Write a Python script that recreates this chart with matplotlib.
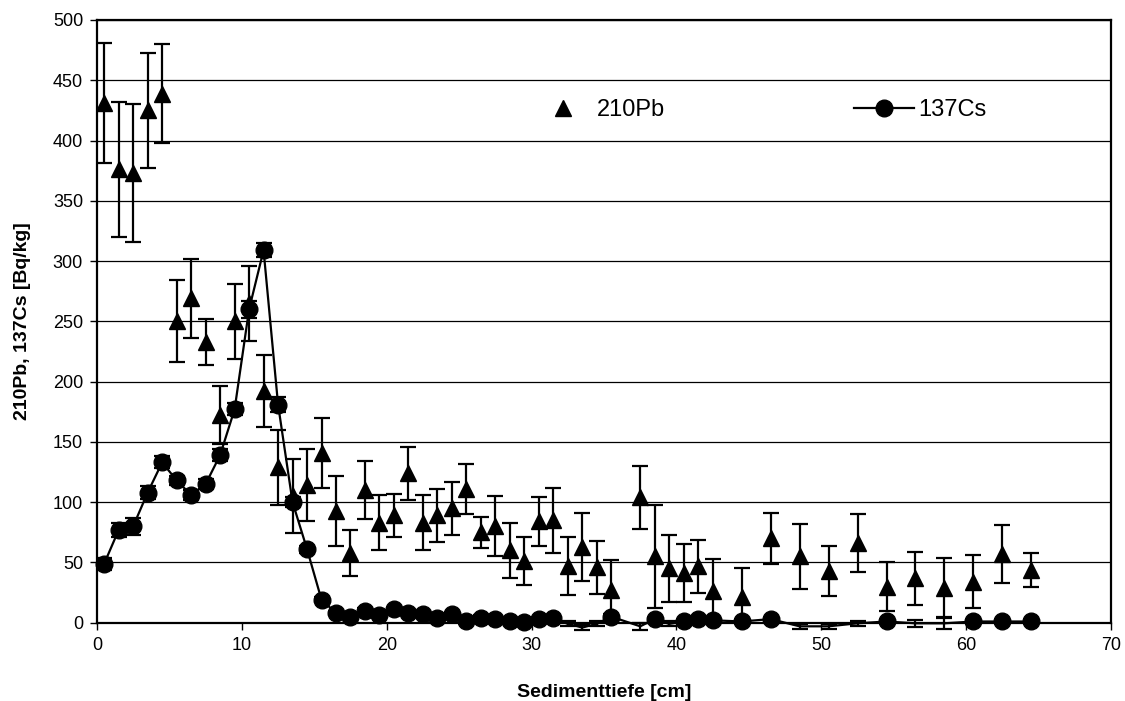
import numpy as np
import matplotlib
matplotlib.use("Agg")
import matplotlib.pyplot as plt
from matplotlib.lines import Line2D

plt.rcParams['font.family'] = ['Liberation Sans', 'DejaVu Sans']

# sampling depths [cm]
depth = [0.5, 1.5, 2.5, 3.5, 4.5, 5.5, 6.5, 7.5, 8.5, 9.5,
         10.5, 11.5, 12.5, 13.5, 14.5, 15.5, 16.5, 17.5, 18.5, 19.5,
         20.5, 21.5, 22.5, 23.5, 24.5, 25.5, 26.5, 27.5, 28.5, 29.5,
         30.5, 31.5, 32.5, 33.5, 34.5, 35.5, 37.5, 38.5, 39.5, 40.5,
         41.5, 42.5, 44.5, 46.5, 48.5, 50.5, 52.5, 54.5, 56.5, 58.5,
         60.5, 62.5, 64.5]

pb210 = [431, 376, 373, 425, 439, 250, 269, 233, 172, 250,
         265, 192, 129, 105, 114, 141, 93, 58, 110, 83,
         89, 124, 83, 89, 95, 111, 75, 80, 60, 51,
         84, 85, 47, 63, 46, 27, 104, 55, 45, 41,
         47, 26, 21, 70, 55, 43, 66, 30, 37, 29,
         34, 57, 44]
pb210_err = [50, 56, 57, 48, 41, 34, 33, 19, 24, 31,
             31, 30, 31, 31, 30, 29, 29, 19, 24, 23,
             18, 22, 23, 22, 22, 21, 13, 25, 23, 20,
             20, 27, 24, 28, 22, 25, 26, 43, 28, 24,
             22, 27, 24, 21, 27, 21, 24, 20, 22, 25,
             22, 24, 14]

cs137 = [49, 77, 80, 108, 133, 118, 106, 115, 139, 177,
         260, 309, 181, 100, 61, 19, 8, 5, 10, 6,
         11, 8, 7, 4, 7, 1, 4, 3, 1, 0.5,
         3, 4, -1, -4, -1, 5, -3, 3, -1, 1,
         3, 2, 1, 3, -3, -3, -0.5, 1, -0.5, -0.5,
         1, 1, 1]
cs137_err = [5, 6, 7, 5, 5, 4, 4, 4, 5, 5,
             7, 6, 6, 4, 3, 2, 2, 2, 2, 2,
             2, 2, 2, 2, 2, 2, 2, 2, 2, 2,
             2, 2, 2, 2, 2, 2, 3, 2, 2, 2,
             2, 2, 2, 2, 2, 2, 2, 2, 3, 5,
             2, 2, 2]

depth = np.array(depth)
cs137 = np.array(cs137)

fig = plt.figure(figsize=(11.25, 7.01), dpi=100)
ax = fig.add_axes([0.0862, 0.1117, 0.9014, 0.8598])

ax.errorbar(depth, pb210, yerr=pb210_err, fmt='^', color='black', ms=11,
            elinewidth=1.6, capsize=5.5, capthick=1.6, zorder=3)

ax.errorbar(depth, cs137, yerr=cs137_err, fmt='none', ecolor='black',
            elinewidth=1.6, capsize=5.5, capthick=1.6, zorder=4, clip_on=False)
ax.plot(depth, cs137, color='black', lw=1.6, zorder=4, clip_on=False)
# markers below the plot area are hidden (as in the original)
shown = cs137 >= 0
ax.plot(depth[shown], cs137[shown], 'o', color='black', ms=12, zorder=5, clip_on=False)

ax.set_xlim(0, 70)
ax.set_ylim(0, 500)
ax.set_xticks(np.arange(0, 71, 10))
ax.set_yticks(np.arange(0, 501, 50))
ax.yaxis.grid(True, color='black', lw=0.9)
ax.set_axisbelow(True)
for s in ax.spines.values():
    s.set_linewidth(1.6)
ax.tick_params(direction='out', length=5, width=1, labelsize=13, pad=5)

ax.set_xlabel('Sedimenttiefe [cm]', fontsize=14, fontweight='bold', labelpad=22)
ax.set_ylabel('210Pb, 137Cs [Bq/kg]', fontsize=14, fontweight='bold', labelpad=16)

handles = [Line2D([], [], ls='none', marker='^', color='black', ms=11),
           Line2D([], [], ls='-', marker='o', color='black', ms=12, lw=1.6)]
ax.legend(handles, ['210Pb', '137Cs'], loc='center left', bbox_to_anchor=(0.43, 0.851),
          ncol=2, frameon=False, fontsize=17, handlelength=2.55, handletextpad=0.17,
          columnspacing=8.0, borderpad=0, borderaxespad=0)

fig.savefig('out.png', dpi=100)
